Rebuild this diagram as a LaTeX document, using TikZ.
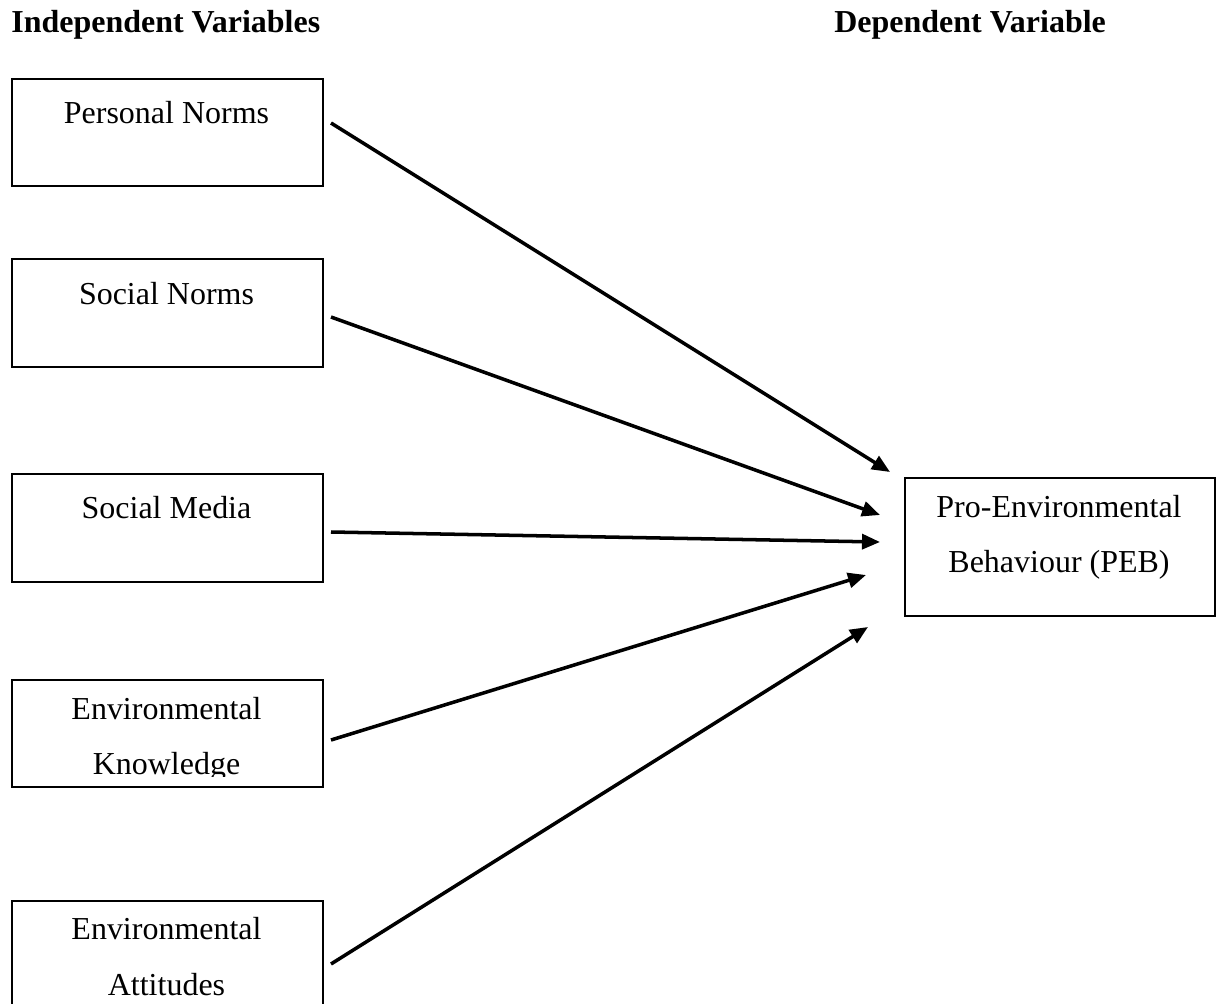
\documentclass[tikz,border=0pt]{standalone}
\usepackage{fontspec}
\setmainfont{Liberation Serif}
\usetikzlibrary{arrows.meta}
\begin{document}
\begin{tikzpicture}[x=0.02cm,y=-0.02cm,
  box/.style={draw,line width=1.1pt,inner sep=0pt,anchor=north west,minimum width=6.22cm},
  lbl/.style={inner sep=0pt,anchor=base,font=\fontsize{18.2}{32}\selectfont},
  hdr/.style={inner sep=0pt,anchor=base west,font=\fontsize{18.2}{32}\selectfont\bfseries},
  arr/.style={line width=2pt,-{Triangle[length=0.36cm,width=0.3cm]}}]
\useasboundingbox (0,0) rectangle (1217,1004);
% headers
\node[hdr] (hIV) at (11,32) {Independent Variables};
\node[hdr] (hDV) at (834,32) {Dependent Variable};
% boxes
\node[box,minimum height=2.14cm] (pn) at (11,78) {};
\node[box,minimum height=2.16cm] (sn) at (11,258) {};
\node[box,minimum height=2.16cm] (sm) at (11,473) {};
\node[box,minimum height=2.14cm] (ek) at (11,679) {};
\node[box,minimum height=2.3cm] (ea) at (11,900) {};
\node[draw,line width=1.1pt,inner sep=0pt,anchor=north west,minimum width=6.2cm,minimum height=2.76cm] (peb) at (904,477) {};
% labels
\node[lbl] (pnT) at (166.5,123) {Personal Norms};
\node[lbl] (snT) at (166.5,304) {Social Norms};
\node[lbl] (smT) at (166.5,518) {Social Media};
\node[lbl] (ekT1) at (166.5,719) {Environmental};
\begin{scope}
\clip (0,740) rectangle (400,776);
\node[lbl] (ekT2) at (166.5,774) {Knowledge};
\end{scope}
\node[lbl] (eaT1) at (166.5,939) {Environmental};
\node[lbl] (eaT2) at (166.5,995) {Attitudes};
\node[lbl] (pebT1) at (1059,517) {Pro-Environmental};
\node[lbl] (pebT2) at (1059,572) {Behaviour (PEB)};
% arrow ends
\coordinate (s1) at (331,123);
\coordinate (s2) at (331,317);
\coordinate (s3) at (331,532);
\coordinate (s4) at (331,740);
\coordinate (s5) at (331,964);
\coordinate (e1) at (890,472);
\coordinate (e2) at (880,515);
\coordinate (e3) at (880,542);
\coordinate (e4) at (866,575);
\coordinate (e5) at (868,627);
\draw[arr] (s1) -- (e1);
\draw[arr] (s2) -- (e2);
\draw[arr] (s3) -- (e3);
\draw[arr] (s4) -- (e4);
\draw[arr] (s5) -- (e5);
\end{tikzpicture}
\end{document}
